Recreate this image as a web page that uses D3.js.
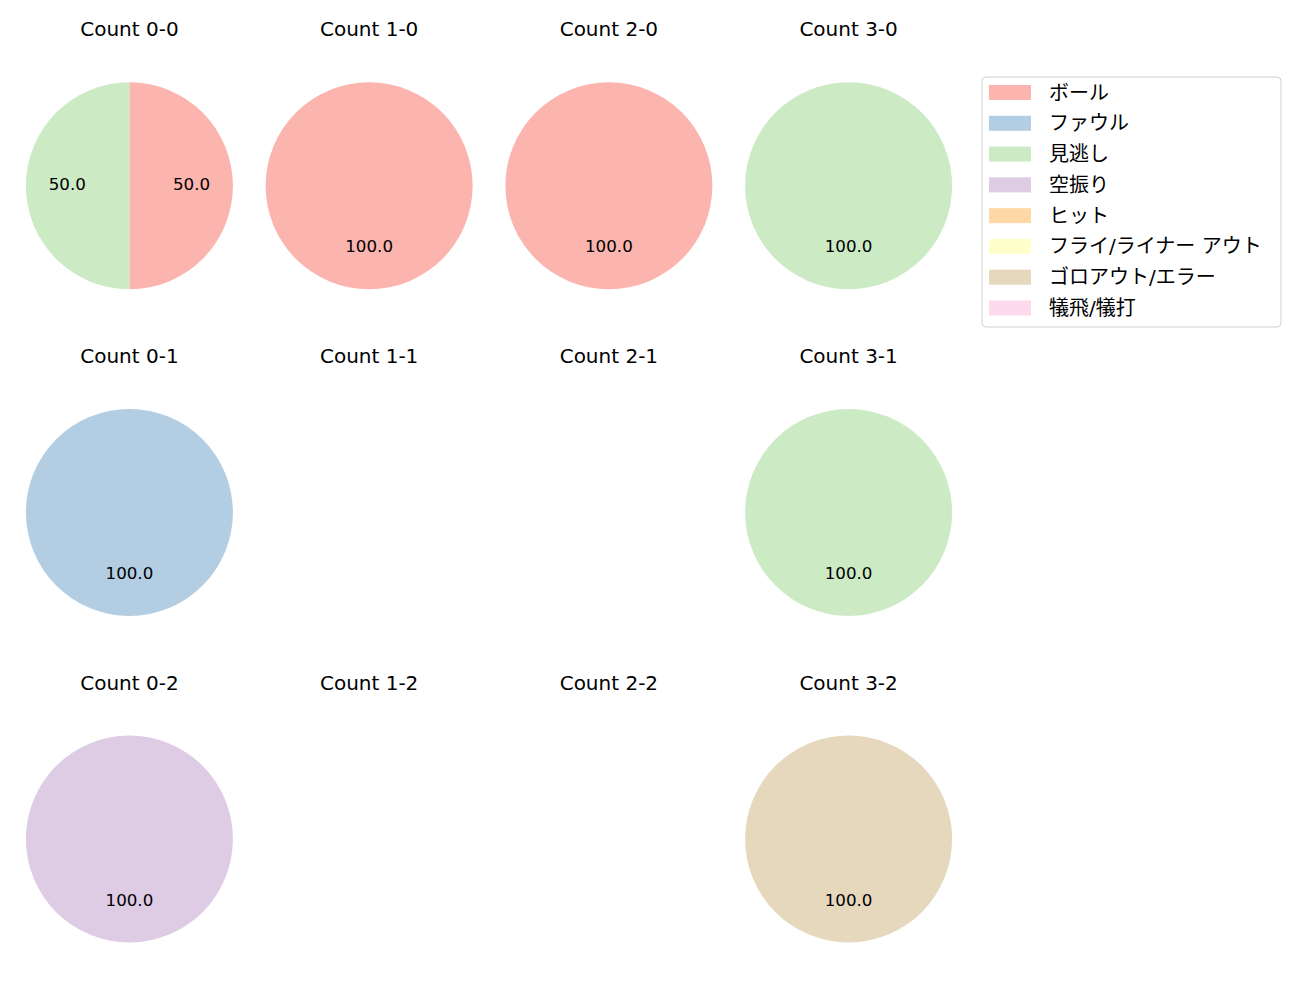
<!DOCTYPE html>
<html>
<head>
<meta charset="utf-8">
<script src="https://cdn.jsdelivr.net/npm/d3@7"></script>
<style>
  body { margin: 0; background: #fff; }
  text { font-family: "DejaVu Sans", "Noto Sans CJK JP", sans-serif; fill: #000; }
</style>
</head>
<body>
<svg width="1300" height="1000"></svg>
<script>
// categories (legend order)
const categories = ['ボール', 'ファウル', '見逃し', '空振り', 'ヒット', 'フライ/ライナー アウト', 'ゴロアウト/エラー', '犠飛/犠打'];
const colors = ['#fbb4ae', '#b3cde3', '#ccebc5', '#decbe4', '#fed9a6', '#ffffcc', '#e5d8bd', '#fddaec'];

// counts: balls 0-3, strikes 0-2
const balls = [0, 1, 2, 3];
const strikes = [0, 1, 2];

// values per count, in category order
const countValues = {
  '0-0': [1, 0, 1, 0, 0, 0, 0, 0],
  '1-0': [1, 0, 0, 0, 0, 0, 0, 0],
  '2-0': [1, 0, 0, 0, 0, 0, 0, 0],
  '3-0': [0, 0, 1, 0, 0, 0, 0, 0],
  '0-1': [0, 1, 0, 0, 0, 0, 0, 0],
  '1-1': [0, 0, 0, 0, 0, 0, 0, 0],
  '2-1': [0, 0, 0, 0, 0, 0, 0, 0],
  '3-1': [0, 0, 1, 0, 0, 0, 0, 0],
  '0-2': [0, 0, 0, 1, 0, 0, 0, 0],
  '1-2': [0, 0, 0, 0, 0, 0, 0, 0],
  '2-2': [0, 0, 0, 0, 0, 0, 0, 0],
  '3-2': [0, 0, 0, 0, 0, 0, 1, 0]
};

const svg = d3.select('svg');

const xScale = d3.scalePoint().domain(balls).range([129.4, 848.6]);
const yScale = d3.scalePoint().domain(strikes).range([185.8, 839]);
const radius = 103.5;

const color = d3.scaleOrdinal().domain(categories).range(colors);

// start at 12 o'clock, going clockwise
const pie = d3.pie()
  .sort(null)
  .value(d => d.value);

const arc = d3.arc().innerRadius(0).outerRadius(radius);

strikes.forEach(s => {
  balls.forEach(b => {
    const key = `${b}-${s}`;
    const vals = countValues[key];
    const total = d3.sum(vals);
    const g = svg.append('g')
      .attr('transform', `translate(${xScale(b)},${yScale(s)})`);

    g.append('text')
      .attr('y', -radius - 46)
      .attr('text-anchor', 'middle')
      .style('font-size', '20px')
      .text(`Count ${key}`);

    if (total === 0) return;

    const data = categories.map((c, i) => ({ cat: c, value: vals[i] })).filter(d => d.value > 0);
    const arcs = pie(data);

    g.selectAll('path')
      .data(arcs)
      .enter()
      .append('path')
      .attr('d', arc)
      .attr('fill', d => color(d.data.cat));

    g.selectAll('text.lbl')
      .data(arcs)
      .enter()
      .append('text')
      .attr('class', 'lbl')
      .attr('x', d => {
        const a = (d.startAngle + d.endAngle) / 2;
        return Math.sin(a) * radius * 0.6;
      })
      .attr('y', d => {
        const a = (d.startAngle + d.endAngle) / 2;
        return -Math.cos(a) * radius * 0.6 + 4.6;
      })
      .attr('text-anchor', 'middle')
      .style('font-size', '16.7px')
      .text(d => (d.data.value / total * 100).toFixed(1));
  });
});

// legend
const legend = svg.append('g').attr('transform', 'translate(982,77)');
legend.append('rect')
  .attr('width', 299)
  .attr('height', 250)
  .attr('rx', 4)
  .attr('fill', '#fff')
  .attr('stroke', '#d0d0d0');

const rowY = d3.scalePoint().domain(categories).range([15.5, 231]);

const items = legend.selectAll('g.item')
  .data(categories)
  .enter()
  .append('g')
  .attr('class', 'item')
  .attr('transform', d => `translate(0,${rowY(d)})`);

items.append('rect')
  .attr('x', 7)
  .attr('y', -7.5)
  .attr('width', 42)
  .attr('height', 15)
  .attr('fill', d => color(d));

items.append('text')
  .attr('x', 67)
  .attr('dominant-baseline', 'central')
  .style('font-size', '20px')
  .text(d => d);
</script>
</body>
</html>
